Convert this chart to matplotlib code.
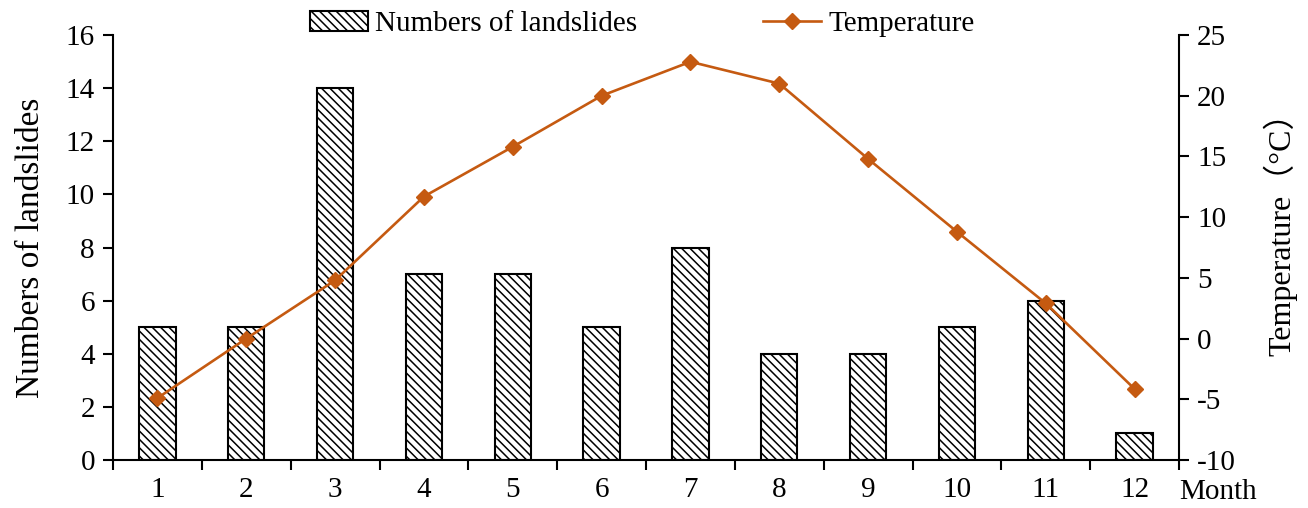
import matplotlib
matplotlib.use("Agg")
import matplotlib.pyplot as plt
from matplotlib.patches import Rectangle
from matplotlib.legend_handler import HandlerPatch
import numpy as np

months = ["1", "2", "3", "4", "5", "6", "7", "8", "9", "10", "11", "12"]
landslides = [5, 5, 14, 7, 7, 5, 8, 4, 4, 5, 6, 1]
temperature = [-4.9, 0.0, 4.8, 11.7, 15.8, 20.0, 22.8, 21.0, 14.8, 8.8, 2.9, -4.15]

plt.rcParams['font.family'] = ['Liberation Serif', 'Noto Sans CJK SC', 'DejaVu Sans']
plt.rcParams['axes.unicode_minus'] = False
plt.rcParams['hatch.linewidth'] = 1.1
plt.rcParams['hatch.color'] = '#444444'

fig = plt.figure(figsize=(13.08, 5.08), dpi=100)
ax = fig.add_axes([0.0864, 0.0945, 0.9014 - 0.0864, 0.931 - 0.0945])
ax2 = ax.twinx()

x = np.arange(len(months))
bars = ax.bar(x, landslides, width=0.41, color='white', edgecolor='black',
              linewidth=1.5, hatch='\\\\\\\\', label='Numbers of landslides', zorder=2)
line, = ax2.plot(x, temperature, color='#C55A11', linewidth=1.9, marker='D',
                 markersize=8, label='Temperature', zorder=3)

ax.set_xlim(-0.5, len(months) - 0.5)
ax.set_ylim(0, 16)
ax.set_yticks(np.arange(0, 17, 2))
ax2.set_ylim(-10, 25)
ax2.set_yticks(np.arange(-10, 26, 5))

ax.set_xticks(np.arange(-0.5, len(months), 1.0))
ax.set_xticklabels([])
ax.set_xticks(x, minor=True)
ax.set_xticklabels(months, minor=True)
ax.tick_params(axis='x', which='major', direction='out', length=7, width=1.5)
ax.tick_params(axis='x', which='minor', length=0, labelsize=21, pad=12)
ax.tick_params(axis='y', direction='out', length=7, width=1.5, labelsize=21, pad=6)
ax2.tick_params(axis='y', direction='out', length=7, width=1.5, labelsize=21, pad=6)

for a in (ax, ax2):
    a.spines['top'].set_visible(False)
    for s in ('left', 'right', 'bottom'):
        a.spines[s].set_linewidth(1.5)
ax.spines['right'].set_visible(False)
ax2.spines['left'].set_visible(False)
ax2.spines['bottom'].set_visible(False)

ax.set_ylabel('Numbers of landslides', fontsize=24, labelpad=8)
ax2.set_ylabel('Temperature（°C）', fontsize=23)
ax2.yaxis.set_label_coords(1.079, 0.55)
ax.yaxis.set_label_coords(-0.063, 0.5)

ax.text(1.0, -0.075, 'Month', transform=ax.transAxes, fontsize=21,
        ha='left', va='center')

ax.set_zorder(ax2.get_zorder() - 1)
ax.patch.set_visible(False)


def small_patch(legend, orig_handle, xdescent, ydescent, width, height, fontsize):
    return Rectangle((-xdescent, -ydescent + height * 0.05), width * 0.64, height * 0.9)


fig.legend([bars, line], ['Numbers of landslides', 'Temperature'],
           loc='center', bbox_to_anchor=(0.491, 0.953), ncol=2, frameon=False,
           fontsize=21, columnspacing=4.3, handlelength=2.0, handletextpad=0.25,
           handler_map={bars[0].__class__: HandlerPatch(patch_func=small_patch)})

fig.savefig('out.png', dpi=100)
